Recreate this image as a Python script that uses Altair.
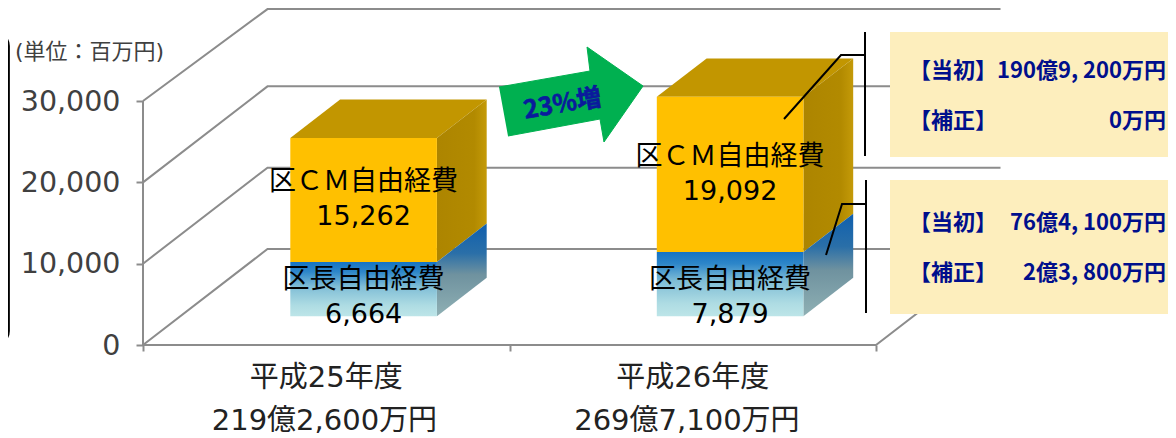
import altair as alt
import pandas as pd

# ---- data ----
years = ["平成25年度", "平成26年度"]
totals = ["219億2,600万円", "269億7,100万円"]
kucho = [6664, 7879]
cm = [15262, 19092]
kucho_name = "区長自由経費"
cm_name = "区ＣＭ自由経費"
ticks = [0, 10000, 20000, 30000]
panel_rows_left = ["【当初】", "【補正】", "【当初】", "【補正】"]
panel_rows_right = ["190億9, 200万円", "0万円", "76億4, 100万円", "2億3, 800万円"]
panel_rows_v = [33691, 27543, 15001, 8853]
arrow_x = [0.9714, 1.2196, 1.2115, 1.3643, 1.2578, 1.2469, 0.9959]
arrow_v = [31723, 33690, 36641, 31846, 24960, 27788, 25698]

# oblique projection of the chart's 3-D box, in x-unit / value-unit terms
DX, DV = 0.3397, 11803
FRONT, BACK = 0.3, 0.7
BAR_L, BAR_R = 0.3, 0.7
XMAX, VMAX = 2.7967, 41437
TOP_VISIBLE = 41300

GRID = "#8c8c8c"
SANS = "DejaVu Sans, Noto Sans CJK JP"
BOLD = "Noto Sans CJK JP"

x_scale = alt.Scale(domain=[0, XMAX], nice=False, zero=False)
y_scale = alt.Scale(domain=[0, VMAX], nice=False, zero=False)
x_axis = alt.Axis(values=[0, 1, 2], labels=False, domain=False, grid=False, title=None,
                  tickSize=6, tickWidth=2, tickColor=GRID)
y_axis = alt.Axis(values=ticks, format=",d", domain=False, grid=False, title=None,
                  tickSize=7, tickWidth=2, tickColor=GRID, labelPadding=16,
                  labelFont=SANS, labelFontSize=28.5, labelColor="#404040")
X = lambda f="x": alt.X(f"{f}:Q", scale=x_scale, axis=x_axis)
Y = lambda f="y": alt.Y(f"{f}:Q", scale=y_scale, axis=y_axis)
X2 = lambda f="x2": alt.X2(f"{f}:Q")
Y2 = lambda f="y2": alt.Y2(f"{f}:Q")


def grad(stops, horizontal=False):
    return alt.Gradient(
        gradient="linear",
        stops=[alt.GradientStop(offset=o, color=c) for o, c in stops],
        x1=0, y1=0, x2=1 if horizontal else 0, y2=0 if horizontal else 1,
    )


# gridlines
grid_rows = []
for i, t in enumerate(ticks):
    back_v = min(t + DV, TOP_VISIBLE)
    grid_rows += [
        {"id": f"d{i}", "x": 0, "y": t, "o": 0},
        {"id": f"d{i}", "x": DX, "y": back_v, "o": 1},
        {"id": f"d{i}", "x": 2 + DX, "y": back_v, "o": 2},
    ]
grid_rows += [
    {"id": "floor", "x": 0, "y": 0, "o": 0},
    {"id": "floor", "x": 2, "y": 0, "o": 1},
    {"id": "floor", "x": 2 + DX, "y": DV, "o": 2},
    {"id": "wall", "x": 0, "y": 0, "o": 0},
    {"id": "wall", "x": 0, "y": ticks[-1], "o": 1},
]
grid = alt.Chart(pd.DataFrame(grid_rows)).mark_line(stroke=GRID, strokeWidth=2).encode(
    x=X(), y=Y(), detail="id:N", order="o:Q"
)

# bar faces
front, side, top = [], [], []
for b, (k, c) in enumerate(zip(kucho, cm)):
    for name, lo, hi in (("low", 0, k), ("up", k, k + c)):
        fx = b + BAR_L + FRONT * DX
        fx2 = b + BAR_R + FRONT * DX
        front.append({"bar": b, "seg": name, "x": fx, "x2": fx2,
                      "y": lo + FRONT * DV, "y2": hi + FRONT * DV})
        for d in (FRONT, BACK):
            side.append({"bar": b, "seg": name, "x": b + BAR_R + d * DX,
                         "y": lo + d * DV, "y2": hi + d * DV})
    for d in (FRONT, BACK):
        top.append({"bar": b, "y": k + c + d * DV,
                    "x": b + BAR_L + d * DX, "x2": b + BAR_R + d * DX})
front, side, top = pd.DataFrame(front), pd.DataFrame(side), pd.DataFrame(top)

face_low = alt.Chart(front[front.seg == "low"]).mark_rect(
    color=grad([(0, "#1673c4"), (0.18, "#2d86c9"), (0.45, "#7fbdd6"), (0.8, "#aedce3"), (1, "#bde5e8")])
).encode(x=X(), x2=X2(), y=Y(), y2=Y2())
face_up = alt.Chart(front[front.seg == "up"]).mark_rect(color="#ffc000").encode(
    x=X(), x2=X2(), y=Y(), y2=Y2())
side_low = alt.Chart(side[side.seg == "low"]).mark_area(
    color=grad([(0, "#0f5fae"), (0.32, "#2a6fa8"), (0.55, "#6f929f"), (1, "#8fb0b4")])
).encode(x=X(), y=Y(), y2=Y2(), detail="bar:N")
side_up = alt.Chart(side[side.seg == "up"]).mark_area(
    color=grad([(0, "#ad8500"), (0.75, "#b28a00"), (1, "#c49a08")], horizontal=True)
).encode(x=X(), y=Y(), y2=Y2(), detail="bar:N")
top_face = alt.Chart(top).mark_area(orient="horizontal", color="#c29600").encode(
    y=Y(), x=X(), x2=X2(), detail="bar:N")

# bar labels
cx = [b + 0.5 + FRONT * DX for b in range(2)]
lab = []
for b in range(2):
    upper_mid = kucho[b] + cm[b] / 2 + FRONT * DV
    lab += [
        {"x": cx[b], "y": upper_mid + 2150, "t": cm_name},
        {"x": cx[b], "y": upper_mid - 2150, "t": f"{cm[b]:,}"},
        {"x": cx[b], "y": 7992, "t": kucho_name},
        {"x": cx[b], "y": 3689, "t": f"{kucho[b]:,}"},
    ]
bar_labels = alt.Chart(pd.DataFrame(lab)).mark_text(
    font=SANS, fontSize=27, color="#000000", baseline="middle", align="center"
).encode(x=X(), y=Y(), text="t:N")

# category labels
cat = pd.DataFrame({
    "x": [0.5, 1.5, 0.495, 1.484],
    "y": [-4058, -4058, -9345, -9345],
    "t": years + totals,
})
cat_labels = alt.Chart(cat).mark_text(
    font=SANS, fontSize=29, color="#222222", baseline="middle", align="center"
).encode(x=X(), y=Y(), text="t:N")

unit = alt.Chart(pd.DataFrame({"x": [-0.3493], "y": [36027], "t": ["(単位：百万円)"]})).mark_text(
    font=SANS, fontSize=22, color="#404040", baseline="middle", align="left"
).encode(x=X(), y=Y(), text="t:N")

# left rounded box (runs off the page edge)
left_box = alt.Chart(pd.DataFrame({"x": [-0.5], "x2": [-0.3660], "y": [38486], "y2": [0]})).mark_rect(
    fill="#fdeebd", stroke="#000000", strokeWidth=2, cornerRadius=14
).encode(x=X(), x2=X2(), y=Y(), y2=Y2())

# arrow
arrow_df = pd.DataFrame({"x": arrow_x, "y": arrow_v, "o": range(len(arrow_x))})
arrow = alt.Chart(arrow_df).mark_line(fill="#00b050", stroke="#00b050", strokeWidth=1).encode(
    x=X(), y=Y(), order="o:Q"
)
arrow_text = alt.Chart(pd.DataFrame({"x": [1.1447], "y": [29632], "t": ["23%増"]})).mark_text(
    font="Liberation Sans Narrow, Noto Sans CJK JP", fontWeight="bold", fontSize=25,
    color="#0a1a9c", stroke="#0a1a9c", strokeWidth=0.6, angle=350, baseline="middle", align="center"
).encode(x=X(), y=Y(), text="t:N")

# side panels, callouts
panels = alt.Chart(pd.DataFrame({
    "x": [2.0382, 2.0382], "x2": [XMAX, XMAX],
    "y": [38486, 20288], "y2": [23116, 3812],
})).mark_rect(color="#fdeebd").encode(x=X(), x2=X2(), y=Y(), y2=Y2())

call_rows = [
    ("a", 1.970, 38486, 0), ("a", 1.970, 23239, 1),
    ("b", 1.9727, 20288, 0), ("b", 1.9727, 3935, 1),
    ("c", 1.749, 27789, 0), ("c", 1.9045, 35658, 1), ("c", 1.970, 35658, 2),
    ("d", 1.8636, 11066, 0), ("d", 1.9073, 17337, 1), ("d", 1.9727, 17337, 2),
]
callouts = alt.Chart(pd.DataFrame(call_rows, columns=["id", "x", "y", "o"])).mark_line(
    stroke="#000000", strokeWidth=2
).encode(x=X(), y=Y(), detail="id:N", order="o:Q")

p_left = alt.Chart(pd.DataFrame({"x": [2.09] * 4, "y": panel_rows_v, "t": panel_rows_left})).mark_text(
    font=BOLD, fontWeight="bold", fontSize=22, color="#000f8c", baseline="middle", align="left"
).encode(x=X(), y=Y(), text="t:N")
p_right = alt.Chart(pd.DataFrame({"x": [2.7913] * 4, "y": panel_rows_v, "t": panel_rows_right})).mark_text(
    font=BOLD, fontWeight="bold", fontSize=22, color="#000f8c", baseline="middle", align="right"
).encode(x=X(), y=Y(), text="t:N")

chart = alt.layer(
    grid, left_box, unit, cat_labels,
    top_face, side_up, side_low, face_up, face_low, bar_labels,
    arrow, arrow_text, panels, callouts, p_left, p_right,
).properties(
    width=1025, height=337,
    padding={"left": 135, "top": 0, "right": 0, "bottom": 92},
    autosize=alt.AutoSizeParams(type="none"),
    background="#ffffff",
).configure_view(stroke=None)

chart.save("out.html", embed_options={"renderer": "svg", "actions": False})
